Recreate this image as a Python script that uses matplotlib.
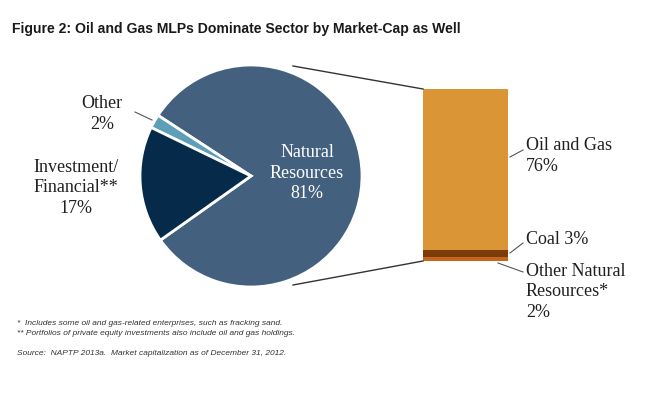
import numpy as np
import matplotlib
matplotlib.use('Agg')
import matplotlib.pyplot as plt

# pie data
pie_labels = ['Natural\nResources\n81%', 'Other\n2%', 'Investment/\nFinancial**\n17%']
pie_values = [81, 2, 17]
pie_colors = ['#43617F', '#5C9FB7', '#062A4A']

# breakdown of natural resources (bottom to top)
bar_names = ['Other Natural\nResources*\n2%', 'Coal 3%', 'Oil and Gas\n76%']
bar_values = [2, 3, 76]
bar_colors = ['#C4661C', '#7B3C08', '#DA9537']

W, H = 662, 398
fig = plt.figure(figsize=(W / 100, H / 100), dpi=100)
ax = fig.add_axes([0, 0, 1, 1])

serif = 'Liberation Serif'
tcol = '#231F20'
lsp = 1.27

# pie
cx, cy, r = 251, 222, 111
wedges, _ = ax.pie(pie_values, colors=pie_colors, startangle=215.3, counterclock=True,
                   center=(cx, cy), radius=r, frame=True,
                   wedgeprops=dict(edgecolor='white', linewidth=2))
ax.set_xlim(0, W)
ax.set_ylim(0, H)
ax.set_aspect('equal')
ax.axis('off')

ax.text(307, 225, pie_labels[0], ha='center', va='center', color='white',
        fontsize=13, family=serif, linespacing=lsp)
ax.text(102, 284, pie_labels[1], ha='center', va='center', color=tcol,
        fontsize=13, family=serif, linespacing=lsp)
ax.text(76, 210, pie_labels[2], ha='center', va='center', color=tcol,
        fontsize=13, family=serif, linespacing=lsp)
ax.plot([135, 152], [286, 278], color='#555555', lw=0.8)

# stacked bar
k = 172 / 81
bx, bw, bbase = 465.5, 85, 137
bottom = bbase
for v, c in zip(bar_values, bar_colors):
    ax.bar(bx, v * k, bw, bottom=bottom, color=c, linewidth=0)
    bottom += v * k

# connectors
ax.plot([293, 423], [332, 309], color='#333333', lw=1)
ax.plot([293, 423], [113, 137], color='#333333', lw=1)

# bar labels
ax.text(526, 242, bar_names[2], ha='left', va='center', color=tcol,
        fontsize=13, family=serif, linespacing=lsp)
ax.plot([510, 523], [241, 248], color='#555555', lw=0.8)
ax.text(526, 158, bar_names[1], ha='left', va='center', color=tcol,
        fontsize=13, family=serif)
ax.plot([510, 523], [145, 155], color='#555555', lw=0.8)
ax.text(526, 106, bar_names[0], ha='left', va='center', color=tcol,
        fontsize=13, family=serif, linespacing=lsp)
ax.plot([498, 523], [135, 126], color='#555555', lw=0.8)

# title
ax.text(12, 365, 'Figure 2: Oil and Gas MLPs Dominate Sector by Market-Cap as Well',
        ha='left', va='baseline', fontsize=10.1, fontweight='bold',
        family='Liberation Sans', color='#1a1a1a')

# footnotes
fn = dict(ha='left', va='baseline', fontsize=6, style='italic',
          family='Liberation Sans', color='#333333')
ax.text(17, 73, '*  Includes some oil and gas-related enterprises, such as fracking sand.', **fn)
ax.text(17, 63, '** Portfolios of private equity investments also include oil and gas holdings.', **fn)
ax.text(17, 43, 'Source:  NAPTP 2013a.  Market capitalization as of December 31, 2012.', **fn)

fig.savefig('out.png', dpi=100)
